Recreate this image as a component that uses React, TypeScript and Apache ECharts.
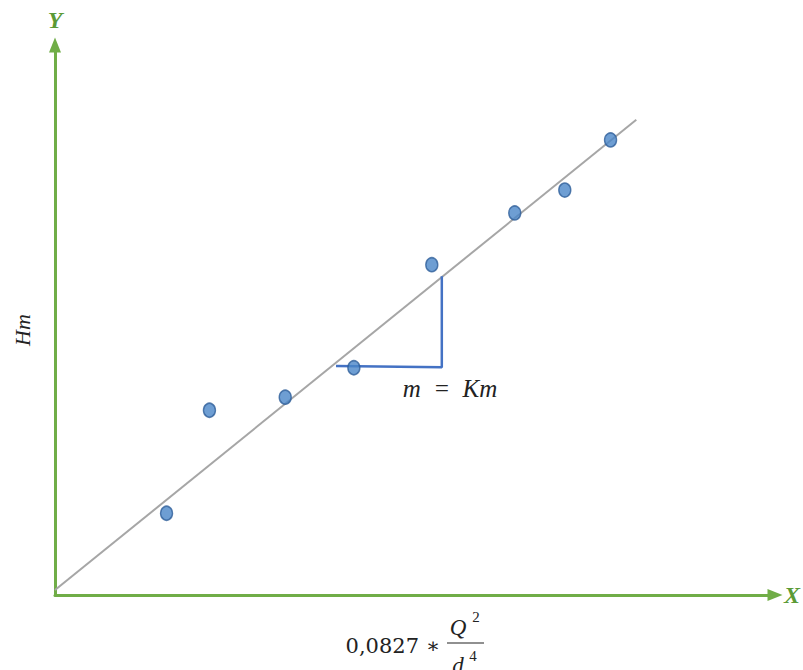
import React, { useEffect, useRef } from "react";
import * as echarts from "echarts";

const pointsX = [15.6, 21.6, 32.2, 41.8, 52.7, 64.3, 71.3, 77.7];
const pointsY = [15.0, 33.9, 36.3, 41.7, 60.6, 70.1, 74.3, 83.5];
const fitLine = [[0, 0.9], [81.3, 87.2]];
const slopeMarker = [[39.3, 42.0], [54.1, 41.8], [54.1, 58.5]];
const xName = "X";
const yName = "Y";
const yLabel = "Hm";
const slopeLabel = "m  =  Km";

export default function App() {
  const ref = useRef<HTMLDivElement>(null);
  useEffect(() => {
    if (!ref.current) return;
    const chart = echarts.init(ref.current, undefined, { renderer: "svg" });
    const green = "#70AD47";
    const axisCommon = {
      type: "value" as const,
      min: 0,
      max: 100,
      splitLine: { show: false },
      axisTick: { show: false },
      axisLabel: { show: false },
      axisLine: {
        show: true,
        onZero: false,
        symbol: ["none", "triangle"],
        symbolSize: [12, 15],
        symbolOffset: [0, 5],
        lineStyle: { color: green, width: 3 },
      },
    };
    chart.setOption({
      animation: false,
      grid: { left: 55, right: 31, top: 50, bottom: 75 },
      xAxis: {
        ...axisCommon,
        name: xName,
        nameGap: 14,
        nameTextStyle: {
          color: "#5B9A36",
          fontFamily: "Liberation Serif",
          fontStyle: "italic",
          fontWeight: "bold",
          fontSize: 24,
          verticalAlign: "middle",
        },
      },
      yAxis: {
        ...axisCommon,
        name: yName,
        nameGap: 18,
        nameLocation: "end",
        nameTextStyle: {
          color: "#5B9A36",
          fontFamily: "Liberation Serif",
          fontStyle: "italic",
          fontWeight: "bold",
          fontSize: 24,
          align: "center",
        },
      },
      series: [
        {
          type: "line",
          data: fitLine,
          symbol: "none",
          lineStyle: { color: "#A6A6A6", width: 2 },
          z: 2,
        },
        {
          type: "line",
          data: slopeMarker,
          symbol: "none",
          lineStyle: { color: "#4472C4", width: 2.5 },
          z: 3,
        },
        {
          type: "scatter",
          data: pointsX.map((x, i) => [x, pointsY[i]]),
          symbol: "circle",
          symbolSize: [12, 14],
          itemStyle: { color: "#4A86C8", borderColor: "#2F5F9A", borderWidth: 1.5 },
          z: 4,
        },
      ],
      graphic: [
        {
          type: "text",
          x: 22,
          y: 330,
          rotation: Math.PI / 2,
          style: {
            text: yLabel,
            font: "italic 22px 'Liberation Serif'",
            fill: "#222",
            align: "center",
            verticalAlign: "middle",
          },
        },
        {
          type: "text",
          x: 450,
          y: 388,
          style: {
            text: slopeLabel,
            font: "italic 25px 'Liberation Serif'",
            fill: "#222",
            align: "center",
            verticalAlign: "middle",
          },
        },
        {
          type: "text",
          x: 440,
          y: 646,
          style: {
            text: "0,0827 ∗",
            font: "21px 'DejaVu Serif'",
            fill: "#222",
            align: "right",
            verticalAlign: "middle",
          },
        },
        {
          type: "text",
          x: 458,
          y: 627,
          style: {
            text: "Q",
            font: "italic 23px 'Liberation Serif'",
            fill: "#222",
            align: "center",
            verticalAlign: "middle",
          },
        },
        {
          type: "text",
          x: 476,
          y: 617,
          style: {
            text: "2",
            font: "15px 'Liberation Serif'",
            fill: "#222",
            align: "center",
            verticalAlign: "middle",
          },
        },
        {
          type: "line",
          shape: { x1: 447, y1: 643, x2: 484, y2: 643 },
          style: { stroke: "#222", lineWidth: 1.2 },
        },
        {
          type: "text",
          x: 458,
          y: 665,
          style: {
            text: "d",
            font: "italic 23px 'Liberation Serif'",
            fill: "#222",
            align: "center",
            verticalAlign: "middle",
          },
        },
        {
          type: "text",
          x: 473,
          y: 656,
          style: {
            text: "4",
            font: "15px 'Liberation Serif'",
            fill: "#222",
            align: "center",
            verticalAlign: "middle",
          },
        },
      ],
    });
    return () => chart.dispose();
  }, []);
  return <div ref={ref} style={{ width: 803, height: 670, position: "absolute", left: 0, top: 0 }} />;
}
